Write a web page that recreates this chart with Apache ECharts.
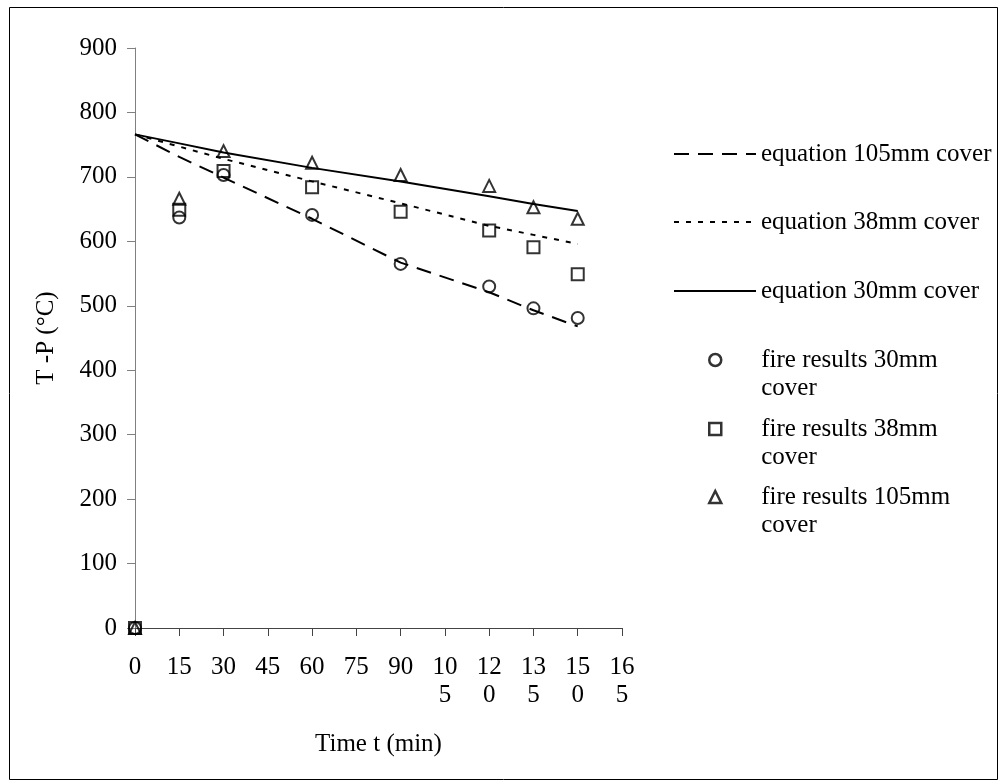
<!DOCTYPE html>
<html>
<head>
<meta charset="utf-8">
<script src="https://cdn.jsdelivr.net/npm/echarts@6/dist/echarts.min.js"></script>
<style>
  html, body { margin: 0; padding: 0; background: #fff; }
  #chart { width: 1002px; height: 784px; }
</style>
</head>
<body>
<div id="chart"></div>
<script>
// Time in minutes at which each value is given
const timeMin = [0, 15, 30, 60, 90, 120, 135, 150];

// Equation curves (temperature difference, °C)
const eq105 = [766, 731, 699, 635, 567, 521, 493, 468];
const eq38  = [766, 747, 728, 693, 659, 624, 610, 596];
const eq30  = [766, 752, 738, 714, 693, 670, 658, 647];

// Fire test results (°C)
const fire30  = [0, 637, 703, 641, 565, 530, 496, 481];
const fire38  = [0, 649, 709, 684, 646, 617, 591, 549];
const fire105 = [0, 666, 740, 722, 703, 686, 653, 635];

// Axis ranges / steps
const xRange = [0, 165, 15];
const yRange = [0, 900, 100];

const FONT = '"Liberation Serif", "Times New Roman", serif';
const FS = 25;

const pair = (xs, ys) => xs.map((x, i) => [x, ys[i]]);

const lineSeries = (name, ys, dash) => ({
  name, type: 'line', data: pair(timeMin, ys),
  symbol: 'none', showSymbol: false, silent: true,
  itemStyle: { color: '#000' },
  lineStyle: { color: '#000', width: 2, type: dash },
  z: 2
});

const pointSeries = (name, ys, symbol) => ({
  name, type: 'scatter', data: pair(timeMin, ys),
  symbol, symbolSize: 12, clip: false,
  itemStyle: { color: 'rgba(255,255,255,0)', borderColor: '#000', borderWidth: 2 },
  z: 3
});

const names = [
  'equation 105mm cover', 'equation 38mm cover', 'equation 30mm cover',
  'fire results 30mm cover', 'fire results 38mm cover', 'fire results 105mm cover'
];

const legendText = { fontFamily: FONT, fontSize: FS, color: '#000', lineHeight: 28 };
// line entries: one text row, centred on the sample line
const lineLegend = (name, centerY) => ({
  data: [name], left: 673, top: centerY - 14, orient: 'vertical',
  itemWidth: 82, itemHeight: 14, padding: 0, selectedMode: false,
  itemStyle: { color: 'rgba(0,0,0,0)', borderColor: 'rgba(0,0,0,0)', borderWidth: 0 },
  textStyle: legendText
});
// marker entries: name wrapped onto two rows, marker beside the first row
const pointLegend = (name, centerY) => ({
  data: [name], left: 708, top: centerY - 42, orient: 'vertical',
  itemWidth: 12, itemHeight: 12, padding: 0, selectedMode: false,
  itemStyle: { borderWidth: 2.5 },
  formatter: n => ' \n{g|}' + n.replace(/ cover$/, '\n{g|}cover'),
  textStyle: Object.assign({ rich: { g: { width: 35 } } }, legendText)
});

const chart = echarts.init(document.getElementById('chart'), null, { renderer: 'canvas' });
chart.setOption({
  animation: false,
  backgroundColor: '#fff',
  textStyle: { fontFamily: FONT },
  grid: { left: 135, right: 380, top: 48, bottom: 156, containLabel: false },
  graphic: [{
    type: 'rect', left: 7, top: 5, silent: true,
    shape: { width: 988, height: 772 },
    style: { fill: 'none', stroke: '#000', lineWidth: 1 }
  }],
  xAxis: {
    type: 'value', min: xRange[0], max: xRange[1], interval: xRange[2],
    name: 'Time t (min)', nameLocation: 'middle', nameGap: 104,
    nameTextStyle: { fontFamily: FONT, fontSize: FS, color: '#000' },
    axisLine: { show: true, onZero: false, lineStyle: { color: '#444', width: 1 } },
    axisTick: { show: true, length: 8, lineStyle: { color: '#444' } },
    splitLine: { show: false },
    axisLabel: {
      fontFamily: FONT, fontSize: FS, color: '#000', margin: 25, lineHeight: 28,
      formatter: v => { const s = String(v); return s.length > 2 ? s.slice(0, 2) + '\n' + s.slice(2) : s; }
    }
  },
  yAxis: {
    type: 'value', min: yRange[0], max: yRange[1], interval: yRange[2],
    name: 'T -P (°C)', nameLocation: 'middle', nameGap: 76, nameRotate: 90,
    nameTextStyle: { fontFamily: FONT, fontSize: FS, color: '#000' },
    axisLine: { show: true, lineStyle: { color: '#808080', width: 1 } },
    axisTick: { show: true, length: 8, lineStyle: { color: '#808080' } },
    splitLine: { show: false },
    axisLabel: { fontFamily: FONT, fontSize: FS, color: '#000', margin: 18 }
  },
  legend: [
    lineLegend(names[0], 154),
    lineLegend(names[1], 222),
    lineLegend(names[2], 291),
    pointLegend(names[3], 360),
    pointLegend(names[4], 429),
    pointLegend(names[5], 497)
  ],
  series: [
    lineSeries(names[0], eq105, [15, 9]),
    lineSeries(names[1], eq38, [5, 7]),
    lineSeries(names[2], eq30, 'solid'),
    pointSeries(names[3], fire30, 'circle'),
    pointSeries(names[4], fire38, 'rect'),
    pointSeries(names[5], fire105, 'triangle')
  ]
});
</script>
</body>
</html>
